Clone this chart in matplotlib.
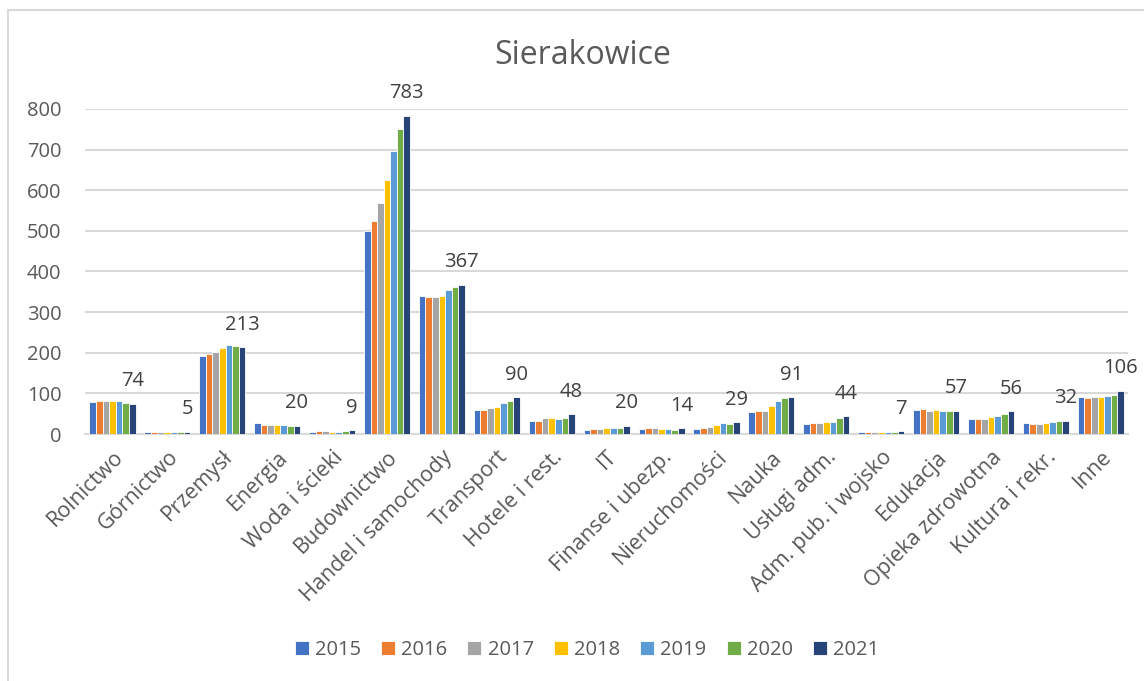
import matplotlib
matplotlib.use('Agg')
import matplotlib.pyplot as plt
from matplotlib.patches import Rectangle
import numpy as np

plt.rcParams['font.family'] = ['Open Sans', 'DejaVu Sans']

# categories (sectors)
sectors = ['Rolnictwo', 'Górnictwo', 'Przemysł', 'Energia', 'Woda i ścieki',
           'Budownictwo', 'Handel i samochody', 'Transport', 'Hotele i rest.',
           'IT', 'Finanse i ubezp.', 'Nieruchomości', 'Nauka', 'Usługi adm.',
           'Adm. pub. i wojsko', 'Edukacja', 'Opieka zdrowotna',
           'Kultura i rekr.', 'Inne']

years = ['2015', '2016', '2017', '2018', '2019', '2020', '2021']

# values per year, in sector order
v2015 = [79, 4, 193, 26, 6, 499, 340, 59, 32, 10, 13, 13, 53, 25, 6, 59, 38, 26, 90]
v2016 = [82, 5, 196, 22, 8, 524, 338, 59, 32, 13, 15, 15, 56, 27, 6, 61, 37, 24, 89]
v2017 = [82, 4, 203, 22, 8, 569, 337, 63, 39, 13, 15, 18, 57, 26, 6, 56, 38, 24, 90]
v2018 = [82, 4, 212, 22, 6, 624, 340, 66, 39, 15, 13, 21, 69, 30, 6, 58, 42, 26, 90]
v2019 = [80, 4, 218, 22, 5, 697, 354, 76, 37, 15, 12, 26, 82, 30, 6, 57, 44, 29, 93]
v2020 = [77, 4, 216, 19, 8, 750, 362, 80, 39, 15, 10, 25, 88, 40, 6, 57, 48, 32, 97]
v2021 = [74, 5, 213, 20, 9, 783, 367, 90, 48, 20, 14, 29, 91, 44, 7, 57, 56, 32, 106]

series = [v2015, v2016, v2017, v2018, v2019, v2020, v2021]
colors = ['#4472C4', '#ED7D31', '#A5A5A5', '#FFC000', '#5B9BD5', '#70AD47', '#264478']

fig = plt.figure(figsize=(11.44, 6.81), dpi=100)
ax = fig.add_axes([0.0743, 0.3627, 0.912, 0.4773])

x = np.arange(len(sectors))
n = len(series)
group = 0.84
w = group / n

for k, (vals, col, yr) in enumerate(zip(series, colors, years)):
    pos = x - group / 2 + w * (k + 0.5)
    ax.bar(pos, vals, width=w, color=col, edgecolor='white', linewidth=0.6,
           label=yr, zorder=3)
    if k == n - 1:
        # value labels only for the last year
        for px, v in zip(pos, vals):
            ax.annotate(str(v), (px, v), xytext=(0, 9), textcoords='offset points',
                        ha='center', va='bottom', fontsize=14.5, color='#404040',
                        annotation_clip=False)

ax.set_xlim(-0.5, len(sectors) - 0.5)
ax.set_ylim(0, 800)
ax.set_yticks(range(0, 801, 100))
ax.yaxis.grid(True, color='#D9D9D9', linewidth=1.5, zorder=0)
ax.set_axisbelow(True)
for s in ['top', 'right', 'left']:
    ax.spines[s].set_visible(False)
ax.spines['bottom'].set_color('#D9D9D9')
ax.spines['bottom'].set_linewidth(1.5)
ax.tick_params(axis='both', length=0, colors='#595959')
ax.tick_params(axis='y', pad=17, labelsize=14.5)
ax.tick_params(axis='x', pad=9, labelsize=15.5)
ax.set_xticks(x)
ax.set_xticklabels(sectors, rotation=45, ha='right', rotation_mode='anchor')

fig.text(0.509, 0.918, 'Sierakowice', ha='center', va='center', fontsize=23,
         color='#595959')

handles, labels = ax.get_legend_handles_labels()
fig.legend(handles, labels, loc='center', bbox_to_anchor=(0.513, 0.046), ncol=7,
           frameon=False, fontsize=14.5, handlelength=0.7, handleheight=0.7,
           handletextpad=0.3, columnspacing=1.0, labelcolor='#595959')

# chart border (only left/top edges visible in the crop)
fig.patches.append(Rectangle((8 / 1144, -0.1), 1.2, 1 - 10 / 681 + 0.1,
                             transform=fig.transFigure, fill=False,
                             edgecolor='#D9D9D9', linewidth=1.5))

fig.savefig('out.png', dpi=100)
